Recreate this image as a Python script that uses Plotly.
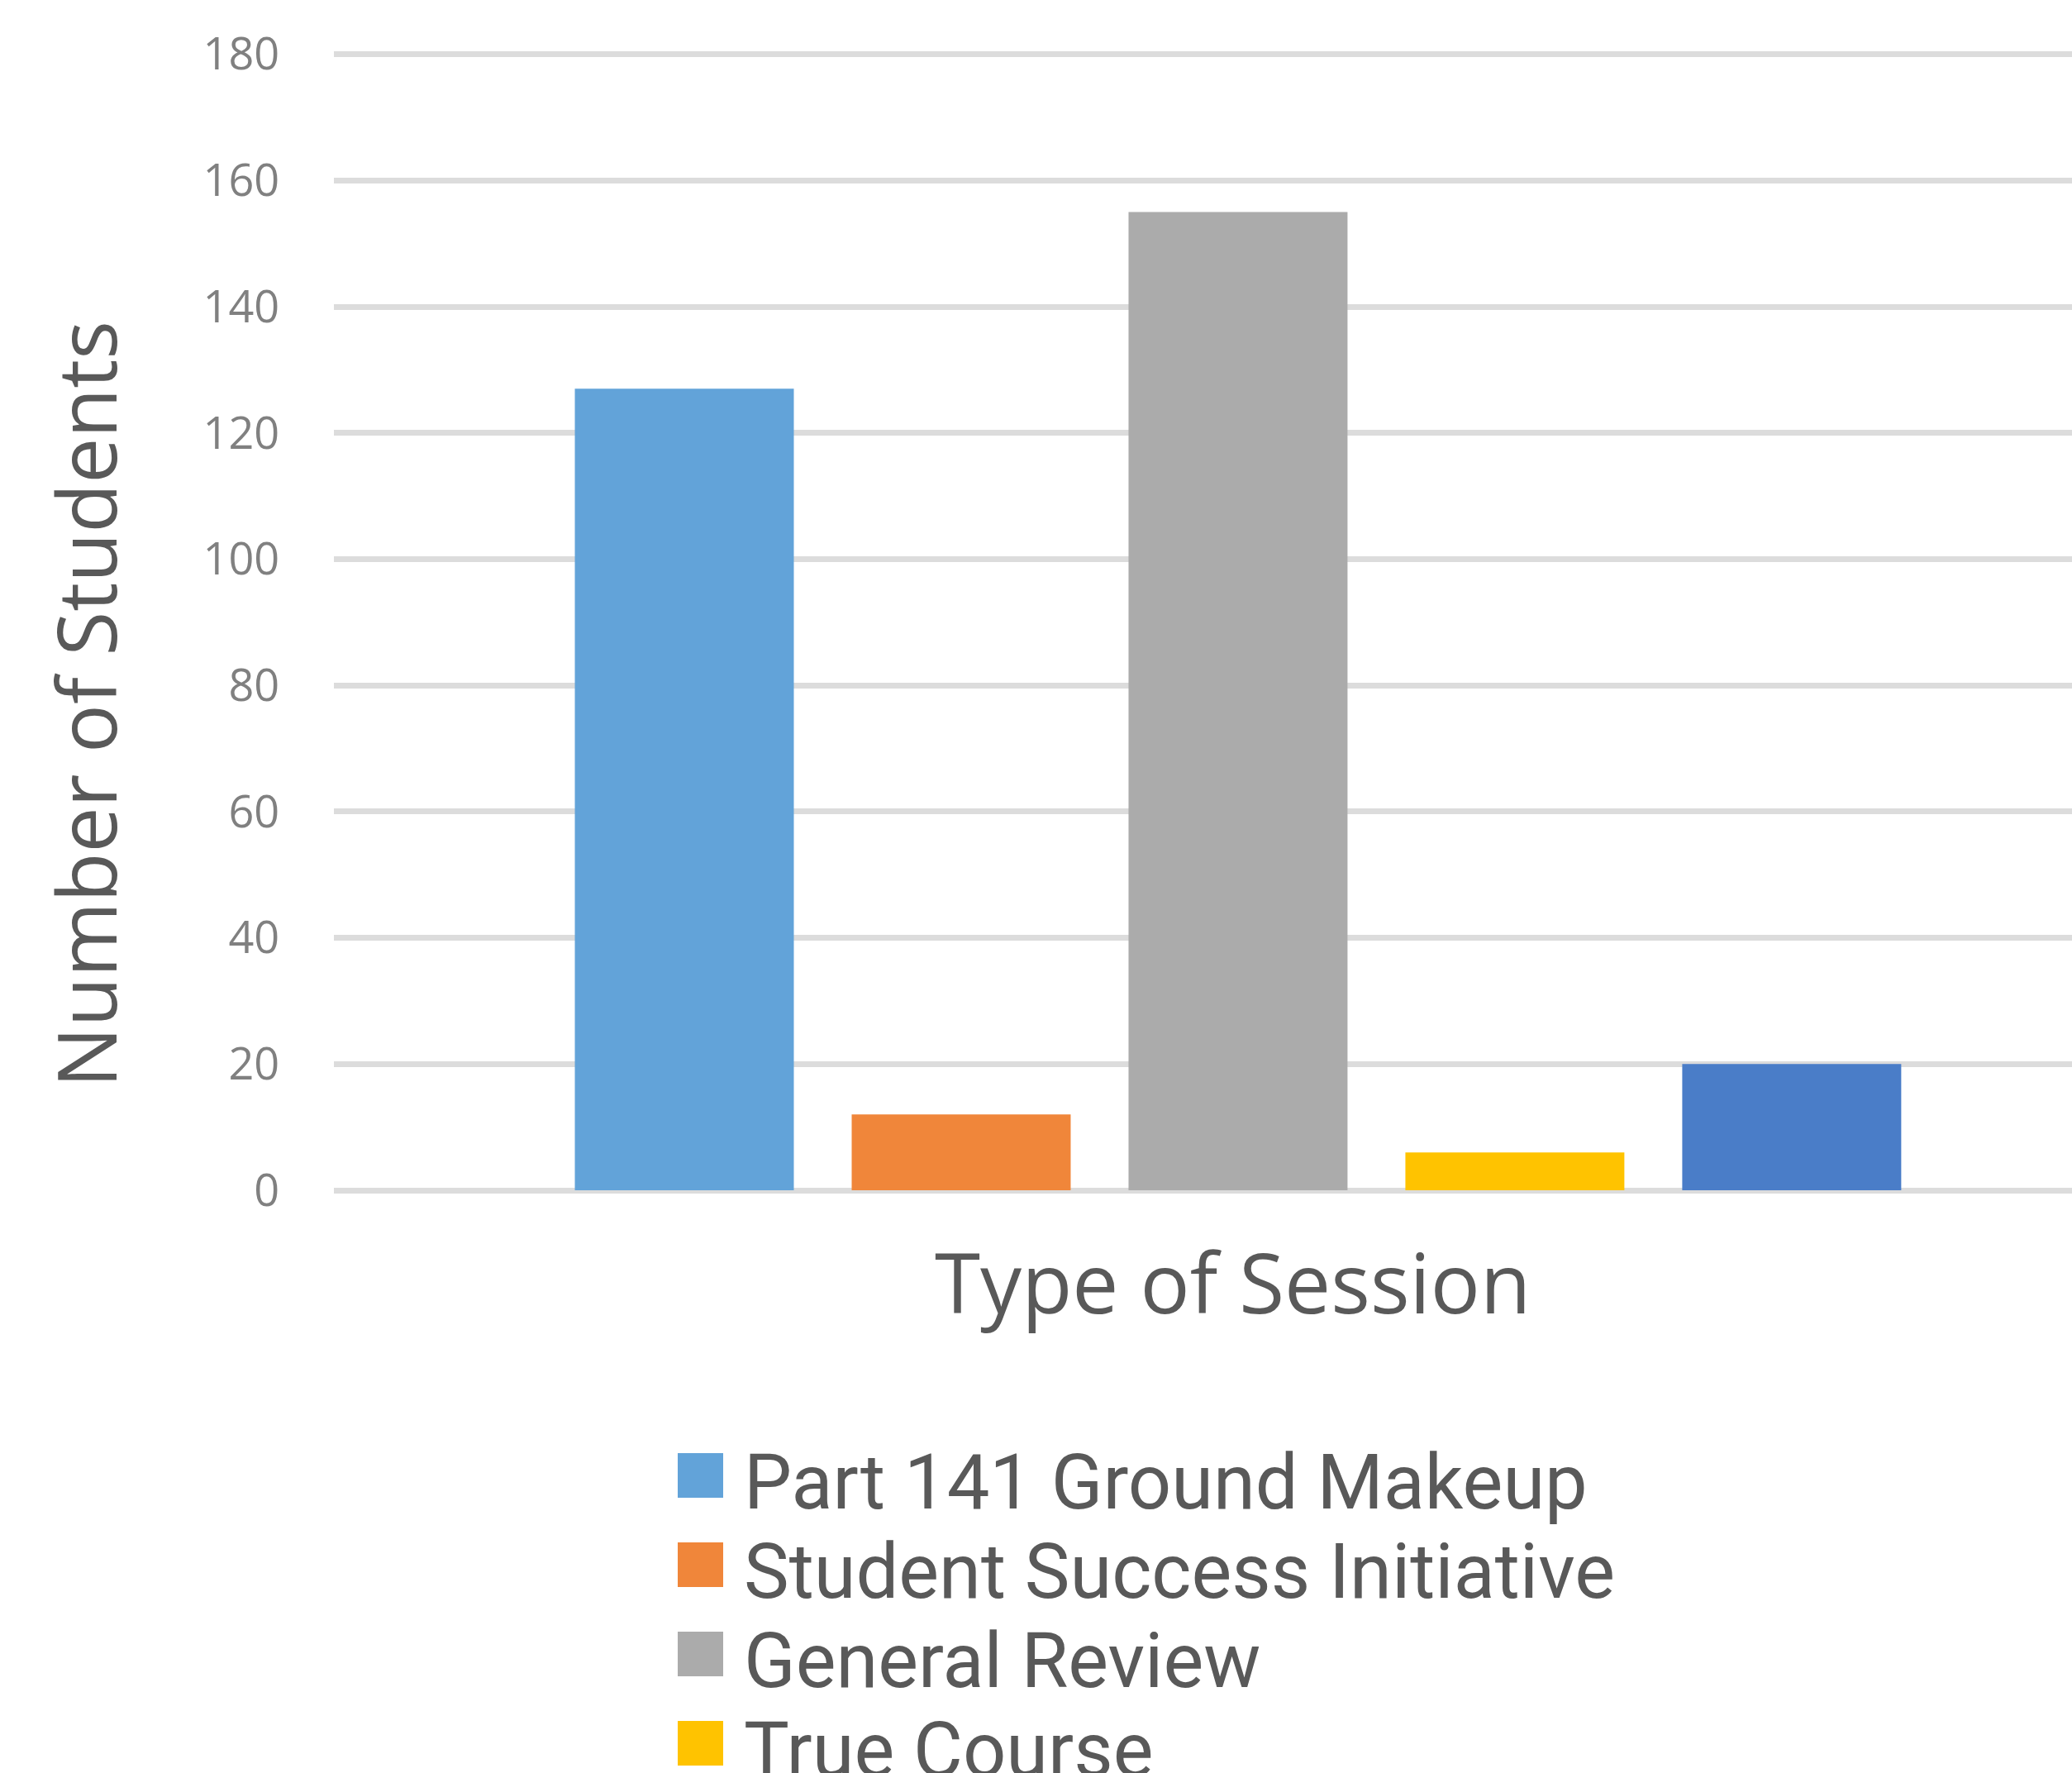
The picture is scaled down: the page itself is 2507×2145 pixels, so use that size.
import plotly.graph_objects as go

# ---- data ----
category = ["Sessions"]
series_names = ["Part 141 Ground Makeup", "Student Success Initiative",
                "General Review", "True Course", "Other"]
series_values = [127, 12, 155, 6, 20]
series_colors = ["#62A3D9", "#F0863A", "#ABABAB", "#FFC300", "#4A7DC8"]
y_ticks = [0, 20, 40, 60, 80, 100, 120, 140, 160, 180]
x_title = "Type of Session"
y_title = "Number of Students"

# ---- geometry (pixels) ----
W, H = 2507, 2145
Y_MAX = 180.6
L, R, T, B = 404, 0, 61, 2145 - 1440
PW = W - L - R
PH = H - T - B


def px_x(px):
    return (px - L) / PW


def px_y(py):
    return (H - B - py) / PH


FONT = "Open Sans"
LEG_FONT = "Roboto"

fig = go.Figure()
for name, val, col in zip(series_names, series_values, series_colors):
    fig.add_trace(go.Bar(x=category, y=[val], name=name,
                         marker=dict(color=col, line=dict(width=0)),
                         showlegend=False))

annotations = []
shapes = []
# axis titles
annotations.append(dict(text=x_title, xref="paper", yref="paper",
                        x=px_x(1491), y=px_y(1550), xanchor="center", yanchor="middle",
                        showarrow=False, font=dict(family=FONT, size=100, color="#595959")))
annotations.append(dict(text=y_title, xref="paper", yref="paper",
                        x=px_x(103), y=px_y(852), xanchor="center", yanchor="middle",
                        textangle=-90, showarrow=False,
                        font=dict(family=FONT, size=98, color="#595959")))

# custom legend (first four entries visible, as in reference)
for i, (name, col) in enumerate(zip(series_names[:4], series_colors[:4])):
    cy = 1785 + 108 * i
    shapes.append(dict(type="rect", xref="paper", yref="paper",
                       x0=px_x(820), x1=px_x(875), y0=px_y(cy - 27), y1=px_y(cy + 27),
                       fillcolor=col, line=dict(width=0)))
    annotations.append(dict(text=name, xref="paper", yref="paper",
                            x=px_x(898), y=px_y(cy + 8), xanchor="left", yanchor="middle",
                            showarrow=False,
                            font=dict(family=LEG_FONT, size=92, color="#595959")))

fig.update_layout(
    width=W, height=H,
    margin=dict(l=L, r=R, t=T, b=B, pad=0),
    paper_bgcolor="white", plot_bgcolor="white",
    barmode="group", bargap=0.2345, bargroupgap=0.209,
    showlegend=False,
    xaxis=dict(type="category", range=[-0.5, 0.4612], showticklabels=False,
               showgrid=False, zeroline=False, showline=False, ticks=""),
    yaxis=dict(range=[0, Y_MAX], tickvals=y_ticks, showgrid=True,
               gridcolor="#DCDCDC", gridwidth=7,
               zeroline=True, zerolinecolor="#DCDCDC", zerolinewidth=7,
               showline=False, ticks="outside", ticklen=54,
               tickcolor="rgba(0,0,0,0)",
               tickfont=dict(family=FONT, size=54, color="#808080")),
    annotations=annotations,
    shapes=shapes,
)

fig.write_html("out.html", config={"displayModeBar": False},
               post_script="document.body.style.margin='0';document.body.style.overflow='hidden';")
